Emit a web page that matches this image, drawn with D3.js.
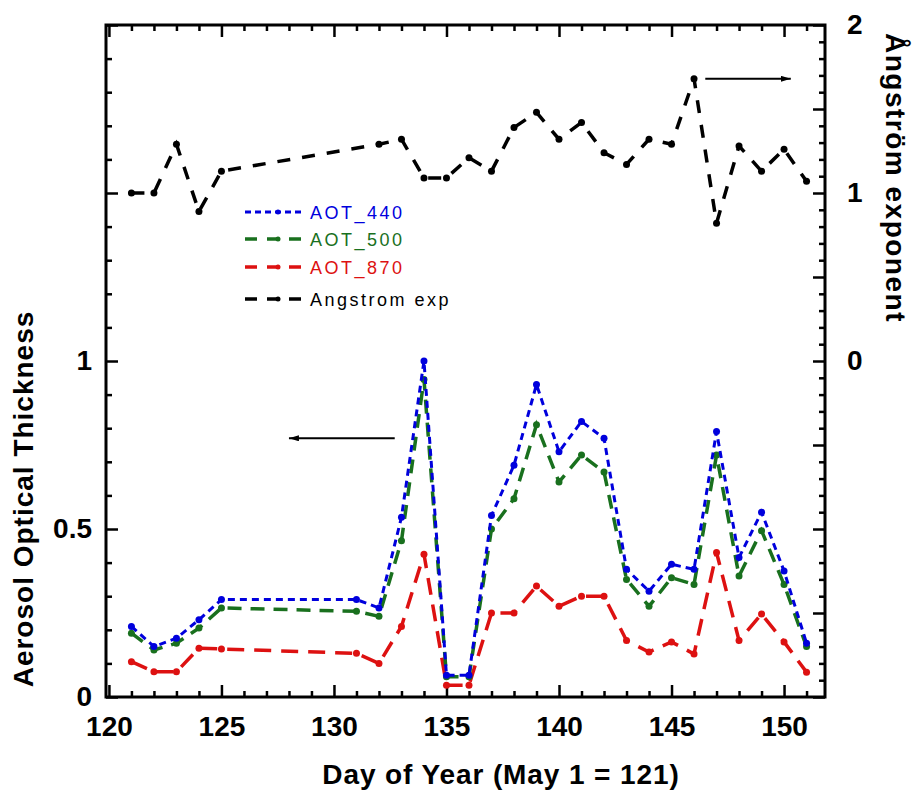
<!DOCTYPE html>
<html>
<head>
<meta charset="utf-8">
<title>Aerosol Optical Thickness and Angstrom exponent</title>
<script src="https://d3js.org/d3.v7.min.js"></script>
<style>
  body { margin: 0; background: #fff; }
  text { font-family: "Liberation Sans", Arial, sans-serif; }
  .tick text { font-size: 28px; font-weight: bold; fill: #000; }
  .tick line { stroke: #000; stroke-width: 2.5; }
  .title { font-size: 28px; font-weight: bold; }
  .legend text { font-size: 18px; letter-spacing: 2.5px; }
</style>
</head>
<body>
<div id="chart"></div>
<script>
// days with AOT measurements
const days = [121,122,123,124,125,131,132,133,134,135,136,137,138,139,140,141,142,143,144,145,146,147,148,149,150,151];
const aot440 = [0.21,0.15,0.175,0.23,0.29,0.29,0.265,0.535,1.0,0.065,0.065,0.54,0.69,0.93,0.73,0.82,0.77,0.38,0.315,0.395,0.38,0.79,0.415,0.55,0.375,0.16];
const aot500 = [0.19,0.14,0.16,0.205,0.265,0.255,0.24,0.465,0.945,0.06,0.06,0.50,0.59,0.81,0.64,0.72,0.67,0.35,0.27,0.355,0.335,0.72,0.36,0.495,0.335,0.15];
const aot870 = [0.105,0.075,0.075,0.145,0.143,0.13,0.10,0.21,0.425,0.035,0.035,0.25,0.25,0.33,0.27,0.30,0.30,0.168,0.134,0.164,0.128,0.43,0.168,0.247,0.164,0.074];

// Angstrom exponent (right axis)
const angDays = [121,122,123,124,125,132,133,134,135,136,137,138,139,140,141,142,143,144,145,146,147,148,149,150,151];
const angstrom = [1.0,1.0,1.29,0.89,1.13,1.29,1.32,1.09,1.09,1.21,1.13,1.39,1.48,1.32,1.42,1.24,1.17,1.32,1.29,1.68,0.82,1.28,1.13,1.26,1.07];

const seriesNames = ["AOT_440", "AOT_500", "AOT_870", "Angstrom exp"];
const xLabelTicks = [120,125,130,135,140,145,150];
const leftLabelTicks = [0,0.5,1];
const rightLabelTicks = [0,1,2];

// arrows: [day, value] pairs, which axis they refer to
const arrowLeft = [[132.7, 0.77],[128.0, 0.77]];
const arrowRight = [[146.5, 1.68],[150.3, 1.68]];

const width = 917, height = 791;
const plot = {left: 106, right: 825, top: 25, bottom: 697};

const svg = d3.select("#chart").append("svg")
    .attr("width", width)
    .attr("height", height);

svg.append("rect").attr("width", width).attr("height", height).attr("fill", "#fff");

const x = d3.scaleLinear().domain([119.87, 151.82]).range([plot.left, plot.right]);
const yL = d3.scaleLinear().domain([0, 2]).range([plot.bottom, plot.top]);
const yR = d3.scaleLinear().domain([-2, 2]).range([plot.bottom, plot.top]);

const styles = {
    "AOT_440": {color: "#0000dd", dash: "7,5", width: 3},
    "AOT_500": {color: "#19701e", dash: "14,9", width: 3.5},
    "AOT_870": {color: "#dd1111", dash: "17,10", width: 3.5},
    "Angstrom exp": {color: "#000", dash: "13,12", width: 3.5}
};

// axes: ticks point into the plot, labels only on majors
const dayTicks = d3.range(120, 152);
const leftTicks = d3.range(0, 21).map(i => i / 10);
const rightTicks = d3.range(-20, 21).map(i => i / 10);
const isHalf = v => Math.abs(v * 2 - Math.round(v * 2)) < 1e-6;

function finish(g, major, attr, sign) {
    g.select(".domain").remove();
    g.selectAll(".tick line").attr(attr, d => sign * (major(d) ? 12 : 6));
}

svg.append("g")
    .attr("transform", `translate(0,${plot.bottom})`)
    .call(d3.axisBottom(x).tickValues(dayTicks).tickSize(-6).tickPadding(19)
        .tickFormat(d => xLabelTicks.includes(d) ? d : ""))
    .call(g => finish(g, d => d % 5 === 0, "y2", -1));

svg.append("g")
    .attr("transform", `translate(0,${plot.top})`)
    .call(d3.axisTop(x).tickValues(dayTicks).tickSize(-6).tickFormat(""))
    .call(g => finish(g, d => d % 5 === 0, "y2", 1));

svg.append("g")
    .attr("transform", `translate(${plot.left},0)`)
    .call(d3.axisLeft(yL).tickValues(leftTicks).tickSize(-6).tickPadding(14)
        .tickFormat(d => leftLabelTicks.some(v => Math.abs(v - d) < 1e-6) ? d3.format("~g")(d) : ""))
    .call(g => finish(g, isHalf, "x2", 1));

svg.append("g")
    .attr("transform", `translate(${plot.right},0)`)
    .call(d3.axisRight(yR).tickValues(rightTicks).tickSize(-6).tickPadding(22)
        .tickFormat(d => rightLabelTicks.some(v => Math.abs(v - d) < 1e-6) ? d3.format("~g")(d) : ""))
    .call(g => finish(g, isHalf, "x2", -1));

// frame
svg.append("rect")
    .attr("x", plot.left).attr("y", plot.top)
    .attr("width", plot.right - plot.left).attr("height", plot.bottom - plot.top)
    .attr("fill", "none").attr("stroke", "#000").attr("stroke-width", 3);

// series
function drawSeries(name, xs, ys, yScale) {
    const st = styles[name];
    const pts = xs.map((d, i) => [d, ys[i]]);
    svg.append("path")
        .datum(pts)
        .attr("fill", "none")
        .attr("stroke", st.color)
        .attr("stroke-width", st.width)
        .attr("stroke-dasharray", st.dash)
        .attr("d", d3.line().x(d => x(d[0])).y(d => yScale(d[1])));
    svg.append("g").selectAll("circle")
        .data(pts)
        .join("circle")
        .attr("cx", d => x(d[0]))
        .attr("cy", d => yScale(d[1]))
        .attr("r", 3.5)
        .attr("fill", st.color);
}

drawSeries("AOT_870", days, aot870, yL);
drawSeries("AOT_500", days, aot500, yL);
drawSeries("AOT_440", days, aot440, yL);
drawSeries("Angstrom exp", angDays, angstrom, yR);

// arrows
svg.append("defs").append("marker")
    .attr("id", "head")
    .attr("viewBox", "0 0 10 6")
    .attr("refX", 10).attr("refY", 3)
    .attr("markerWidth", 10).attr("markerHeight", 6)
    .attr("markerUnits", "userSpaceOnUse")
    .attr("orient", "auto")
    .append("path").attr("d", "M0,0L10,3L0,6Z").attr("fill", "#000");

[[arrowLeft, yL], [arrowRight, yR]].forEach(([a, s]) => {
    svg.append("line")
        .attr("x1", x(a[0][0])).attr("y1", s(a[0][1]))
        .attr("x2", x(a[1][0])).attr("y2", s(a[1][1]))
        .attr("stroke", "#000").attr("stroke-width", 2)
        .attr("marker-end", "url(#head)");
});

// legend
const legend = svg.append("g").attr("class", "legend");
const rowY = [212, 239, 267, 299];
seriesNames.forEach((name, i) => {
    const st = styles[name];
    const row = legend.append("g").attr("transform", `translate(245,${rowY[i]})`);
    row.append("line")
        .attr("x1", 0).attr("x2", 60)
        .attr("stroke", st.color).attr("stroke-width", st.width)
        .attr("stroke-dasharray", i === 0 ? "6,4" : "12,10");
    row.append("circle").attr("cx", 33).attr("r", 2.5).attr("fill", st.color);
    row.append("text")
        .attr("x", 65).attr("y", 6.5)
        .attr("fill", st.color)
        .text(name);
});

// titles
svg.append("text").attr("class", "title")
    .attr("text-anchor", "middle")
    .attr("x", 501).attr("y", 784)
    .style("letter-spacing", "0.9px")
    .text("Day of Year (May 1 = 121)");

svg.append("text").attr("class", "title")
    .attr("text-anchor", "middle")
    .attr("transform", "translate(33,499) rotate(-90)")
    .style("letter-spacing", "1px")
    .text("Aerosol Optical Thickness");

svg.append("text").attr("class", "title")
    .attr("text-anchor", "middle")
    .attr("transform", "translate(886,178) rotate(90)")
    .style("letter-spacing", "1.5px")
    .text("Ångström exponent");
</script>
</body>
</html>
